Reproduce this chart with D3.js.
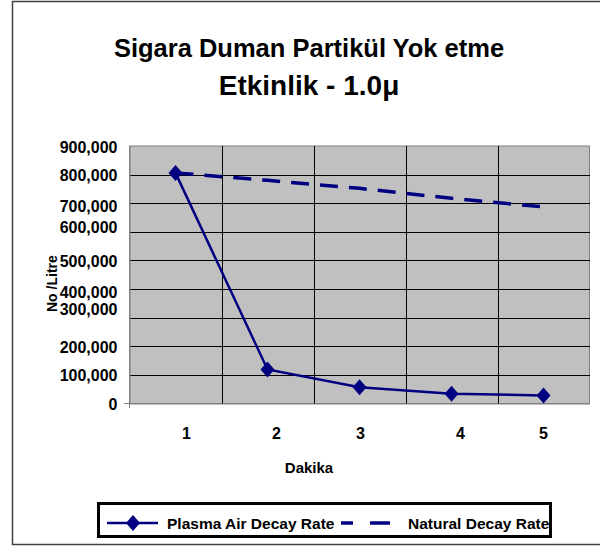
<!DOCTYPE html>
<meta charset="utf-8" />
<style>
  body {
    background: #fff;
    margin: 0px;
  }

  svg text {
    font-family: "Liberation Sans", Arial, sans-serif;
    font-weight: bold;
    fill: #000;
  }

  .grid {
    stroke: #000;
    stroke-width: 1px;
    shape-rendering: crispEdges;
  }
</style>
<body>
<script src="https://cdn.jsdelivr.net/npm/d3@7"></script>
<script>
  var width = 600,
    height = 546;

  // chart data
  var minutes = ["1", "2", "3", "4", "5"];
  var plasmaDecay = [806000, 119000, 57000, 34000, 28000];
  var naturalDecay = [806000, 780000, 752000, 717000, 687000];
  var yTicks = [0, 100000, 200000, 300000, 400000, 500000, 600000, 700000, 800000, 900000];
  var seriesNames = ["Plasma Air Decay Rate", "Natural Decay Rate"];

  // the original sheet draws a few labels slightly off their gridlines
  var yLabelNudge = { 300000: -9, 400000: 2, 600000: -5, 700000: 2 };
  var xLabelNudge = [11, 9, 1, 9, 0];

  var color = "#000080";

  var svg = d3
    .select("body")
    .append("svg")
    .attr("width", width)
    .attr("height", height);

  // outer frame
  svg
    .append("rect")
    .attr("x", 12.5)
    .attr("y", 1.5)
    .attr("width", 600)
    .attr("height", 543)
    .style("fill", "#fff")
    .style("stroke", "#404040")
    .style("stroke-width", 1.5);

  var x = d3.scaleBand().domain(minutes).range([129.5, 589.5]);
  var y = d3.scaleLinear().domain([0, 900000]).range([403.5, 146]);

  // plot area
  svg
    .append("rect")
    .attr("x", 129.5)
    .attr("y", 146)
    .attr("width", 460)
    .attr("height", 257.5)
    .style("fill", "#c0c0c0")
    .style("stroke", "#808080")
    .style("stroke-width", 1);

  svg
    .append("g")
    .selectAll("line")
    .data(yTicks.slice(1, -1))
    .enter()
    .append("line")
    .attr("class", "grid")
    .attr("x1", 129.5)
    .attr("x2", 589.5)
    .attr("y1", (d) => Math.round(y(d)) + 0.5)
    .attr("y2", (d) => Math.round(y(d)) + 0.5);

  svg
    .append("g")
    .selectAll("line")
    .data(minutes.slice(1))
    .enter()
    .append("line")
    .attr("class", "grid")
    .attr("x1", (d) => Math.round(x(d)) + 0.5)
    .attr("x2", (d) => Math.round(x(d)) + 0.5)
    .attr("y1", 146)
    .attr("y2", 403.5);

  // y axis
  var yAxis = svg
    .append("g")
    .attr("transform", "translate(129.5,0)")
    .call(
      d3
        .axisLeft(y)
        .tickValues(yTicks)
        .tickSize(0)
        .tickPadding(12)
        .tickFormat(d3.format(","))
    );
  yAxis.select(".domain").attr("stroke", "#808080");
  yAxis
    .selectAll(".tick text")
    .style("font-size", "16px")
    .attr("dy", (d) => 0.32 + (yLabelNudge[d] || 0) / 16 + 0.06 + "em");
  svg
    .append("line")
    .attr("x1", 124)
    .attr("x2", 129.5)
    .attr("y1", 403.5)
    .attr("y2", 403.5)
    .style("stroke", "#808080");
  svg
    .append("line")
    .attr("x1", 129.5)
    .attr("x2", 129.5)
    .attr("y1", 403.5)
    .attr("y2", 408)
    .style("stroke", "#808080");

  // x axis
  var xAxis = svg
    .append("g")
    .attr("transform", "translate(0,403.5)")
    .call(d3.axisBottom(x).tickSize(0).tickPadding(24));
  xAxis.select(".domain").attr("stroke", "#808080");
  xAxis
    .selectAll(".tick text")
    .style("font-size", "16px")
    .attr("dx", (d, i) => xLabelNudge[i]);

  // axis titles
  svg
    .append("text")
    .attr("x", 309)
    .attr("y", 473)
    .attr("text-anchor", "middle")
    .style("font-size", "15px")
    .text("Dakika");

  svg
    .append("text")
    .attr("transform", "translate(57,312) rotate(-90)")
    .style("font-size", "14px")
    .text("No /Litre");

  // titles
  svg
    .append("text")
    .attr("x", 309)
    .attr("y", 57)
    .attr("text-anchor", "middle")
    .style("font-size", "25.5px")
    .text("Sigara Duman Partikül Yok etme");

  svg
    .append("text")
    .attr("x", 309)
    .attr("y", 95)
    .attr("text-anchor", "middle")
    .style("font-size", "28px")
    .text("Etkinlik - 1.0μ");

  // series
  var px = (d, i) => x(minutes[i]) + x.bandwidth() / 2;
  var line = d3
    .line()
    .x(px)
    .y((d) => y(d));

  svg
    .append("path")
    .datum(naturalDecay)
    .attr("d", line)
    .style("fill", "none")
    .style("stroke", color)
    .style("stroke-width", 3.5)
    .style("stroke-dasharray", "18,11");

  svg
    .append("path")
    .datum(plasmaDecay)
    .attr("d", line)
    .style("fill", "none")
    .style("stroke", color)
    .style("stroke-width", 2.5);

  function diamond(cx, cy) {
    return (
      "M" + cx + "," + (cy - 8) +
      "L" + (cx + 7) + "," + cy +
      "L" + cx + "," + (cy + 8) +
      "L" + (cx - 7) + "," + cy + "Z"
    );
  }

  svg
    .append("g")
    .selectAll("path")
    .data(plasmaDecay)
    .enter()
    .append("path")
    .attr("d", (d, i) => diamond(px(d, i), y(d)))
    .style("fill", color);

  // legend
  var legend = svg.append("g");
  legend
    .append("rect")
    .attr("x", 98.5)
    .attr("y", 503.5)
    .attr("width", 452)
    .attr("height", 33)
    .style("fill", "#fff")
    .style("stroke", "#000")
    .style("stroke-width", 3);

  legend
    .append("line")
    .attr("x1", 107)
    .attr("x2", 158)
    .attr("y1", 523)
    .attr("y2", 523)
    .style("stroke", color)
    .style("stroke-width", 2.5);
  legend
    .append("path")
    .attr("d", diamond(133, 523))
    .style("fill", color);
  legend
    .append("text")
    .attr("x", 167)
    .attr("y", 528.5)
    .style("font-size", "15.5px")
    .text(seriesNames[0]);

  legend
    .append("line")
    .attr("x1", 341)
    .attr("x2", 390)
    .attr("y1", 523)
    .attr("y2", 523)
    .style("stroke", color)
    .style("stroke-width", 3.5)
    .style("stroke-dasharray", "12,17,20");
  legend
    .append("text")
    .attr("x", 408)
    .attr("y", 528.5)
    .style("font-size", "15.5px")
    .text(seriesNames[1]);
</script>
</body>
